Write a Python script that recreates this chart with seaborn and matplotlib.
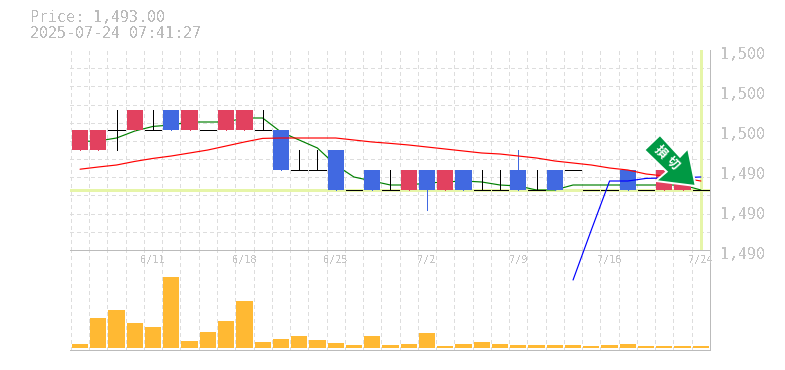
import matplotlib
matplotlib.use("Agg")
import matplotlib.pyplot as plt
from matplotlib.patches import Polygon
from matplotlib.transforms import ScaledTranslation
import seaborn as sns

# 35 daily candles
days = list(range(35))
opens = [1495, 1495, 1496, 1496, 1496, 1497, 1496, 1496, 1496, 1496, 1496, 1496,
         1494, 1494, 1495, 1493, 1494, 1493, 1493, 1494, 1493, 1494, 1493, 1493,
         1494, 1493, 1494, 1494, 1493, 1493, 1494, 1493, 1493, 1493, 1493]
closes = [1496, 1496, 1496, 1497, 1496, 1496, 1497, 1496, 1497, 1497, 1496, 1494,
          1494, 1494, 1493, 1493, 1493, 1493, 1494, 1493, 1494, 1493, 1493, 1493,
          1493, 1493, 1493, 1494, 1493, 1493, 1493, 1493, 1494, 1494, 1493]
highs = [1496, 1496, 1497, 1497, 1497, 1497, 1497, 1496, 1497, 1497, 1497, 1496,
         1495, 1495, 1495, 1493, 1494, 1494, 1494, 1494, 1494, 1494, 1494, 1494,
         1495, 1494, 1494, 1494, 1493, 1493, 1494, 1493, 1494, 1494, 1493]
lows = [1495, 1495, 1495, 1496, 1496, 1496, 1496, 1496, 1496, 1496, 1496, 1494,
        1494, 1494, 1493, 1493, 1493, 1493, 1493, 1492, 1493, 1493, 1493, 1493,
        1493, 1493, 1493, 1494, 1493, 1493, 1493, 1493, 1493, 1493, 1493]
volume = [4, 30, 38, 25, 21, 71, 7, 16, 27, 47, 6, 9, 12, 8, 5, 3, 12, 3,
          4, 15, 2, 4, 6, 4, 3, 3, 3, 3, 2, 3, 4, 2, 2, 2, 2]

ma_short = [1495.43, 1495.45, 1495.60, 1495.95, 1496.18, 1496.25, 1496.40, 1496.40,
            1496.40, 1496.60, 1496.60, 1495.90, 1495.50, 1495.10, 1494.25, 1493.65,
            1493.45, 1493.25, 1493.25, 1493.35, 1493.40, 1493.45, 1493.40, 1493.25,
            1493.20, 1493.00, 1493.00, 1493.25, 1493.25, 1493.25, 1493.25, 1493.25,
            1493.25, 1493.25, 1493.00]
ma_mid = [1494.04, 1494.15, 1494.25, 1494.43, 1494.58, 1494.70, 1494.85, 1495.00,
          1495.20, 1495.40, 1495.58, 1495.60, 1495.60, 1495.60, 1495.60, 1495.50,
          1495.40, 1495.33, 1495.25, 1495.15, 1495.05, 1494.95, 1494.85, 1494.80,
          1494.70, 1494.60, 1494.45, 1494.35, 1494.25, 1494.10, 1494.00, 1493.80,
          1493.70, 1493.60, 1493.45]
ma_long_days = [27, 28, 29, 30, 31, 32, 33, 34]
ma_long = [1488.50, 1491.00, 1493.45, 1493.45, 1493.58, 1493.60, 1493.62, 1493.65]

price_ticks = [1490, 1492, 1494, 1496, 1498, 1500]
price_labels = ["1,490", "1,490", "1,490", "1,500", "1,500", "1,500"]
date_days = [4, 9, 14, 19, 24, 29, 34]
date_labels = ["6/11", "6/18", "6/25", "7/2", "7/9", "7/16", "7/24"]
last_price = 1493

RED = "#E2415F"
BLUE = "#4169E1"
PALE = "#E6F5A8"
GRID = "#DDDDDD"
FRAME = "#BBBBBB"
W, H = 785, 370
PX = 0.7  # one pixel wide line
MA_LW = 0.85

sns.set_style("white")
plt.rcParams["font.family"] = ["DejaVu Sans Mono", "Noto Sans CJK JP"]
# the original is a hard-edged bitmap chart
plt.rcParams["lines.antialiased"] = False
plt.rcParams["patch.antialiased"] = False
plt.rcParams["text.antialiased"] = False

fig = plt.figure(figsize=(W / 100, H / 100), dpi=100)
ax = fig.add_axes([70 / W, 1 - 250 / H, 640 / W, 200 / H])
ax_vol = fig.add_axes([70 / W, 1 - 350 / H, 640 / W, 100 / H])
ax.set_zorder(2)
ax.patch.set_visible(False)

# candles
bar_w = 0.89
for d, o, c, hi, lo in zip(days, opens, closes, highs, lows):
    if o == c:
        col = "black"
        ax.hlines(o, d - bar_w / 2, d + bar_w / 2, color=col, lw=PX, zorder=4)
    else:
        col = RED if c > o else BLUE
        ax.bar(d, abs(c - o), bottom=min(o, c), width=bar_w, color=col, lw=0, zorder=4)
    if hi > lo:
        ax.vlines(d, lo, hi, color=col, lw=PX, zorder=3.5)

ax.axhline(last_price, color=PALE, lw=2.1, zorder=1.5)
ax.axvline(days[-1], color=PALE, lw=2.1, zorder=1.5)

# moving averages, smoothed because aliased sloped lines come out two pixels wide
sns.lineplot(x=days, y=ma_short, color="#008000", lw=MA_LW, estimator=None, ax=ax,
             zorder=3, antialiased=True)
sns.lineplot(x=days, y=ma_mid, color="#FF0000", lw=MA_LW, estimator=None, ax=ax,
             zorder=5, antialiased=True)
sns.lineplot(x=ma_long_days, y=ma_long, color="#0000FF", lw=MA_LW, estimator=None,
             ax=ax, zorder=5, clip_on=False, antialiased=True)

# volume
sns.barplot(x=days, y=volume, native_scale=True, color="#FFB933", saturation=1,
            width=bar_w, linewidth=0, ax=ax_vol, zorder=3)

for a in (ax, ax_vol):
    a.set_xlim(-0.55, 34.45)
    a.set_xlabel("")
    a.set_ylabel("")
    a.set_xticks([])
    a.set_xticks([d - 0.5 for d in days] + [34.5], minor=True)
    a.tick_params(which="both", length=0)
    a.grid(True, axis="x", which="minor", color=GRID, lw=PX, ls=(0, (4, 4)), zorder=0)
    a.set_axisbelow(True)
    a.spines["left"].set_visible(False)
    a.spines["top"].set_visible(False)
    for side in ("right", "bottom"):
        a.spines[side].set_color(FRAME)
        a.spines[side].set_linewidth(PX)

ax.set_ylim(1490, 1500)
ax.yaxis.tick_right()
ax.set_yticks(price_ticks)
ax.set_yticklabels(price_labels, color="#C4C4C4", fontsize=10.8)
ax.set_yticks([1490 + k * 10 / 11 for k in range(12)], minor=True)
ax.grid(True, axis="y", which="minor", color=GRID, lw=PX, ls=(0, (4, 4)), zorder=0)
ax.tick_params(axis="y", which="both", length=0, pad=7)
shift = ScaledTranslation(0, -3 / 100, fig.dpi_scale_trans)
for lab in ax.get_yticklabels():
    lab.set_transform(lab.get_transform() + shift)

ax_vol.set_ylim(-2, 98)
ax_vol.set_yticks([])
for d, lab in zip(date_days, date_labels):
    ax_vol.text(d, 88, lab, ha="center", va="center", fontsize=7.4, color="#C4C4C4", zorder=6)

# header
fig.text(30 / W, 1 - 18 / H, "Price: 1,493.00", fontsize=10.8, color="#BBBBBB", va="center")
fig.text(30 / W, 1 - 33 / H, "2025-07-24 07:41:27", fontsize=10.8, color="#BBBBBB", va="center")

# stop-loss arrow badge, in pixel positions
badge = [(660, 135), (644.3, 150), (666.7, 171.7), (655.7, 181),
         (695.7, 186), (688, 148.3), (680, 156.7)]
fig.add_artist(Polygon([(x / W, 1 - y / H) for x, y in badge], closed=True,
                       transform=fig.transFigure, facecolor="#009944",
                       edgecolor="white", lw=1.4, joinstyle="miter", zorder=10,
                       antialiased=True))
for (x, y), ch in zip([(660, 152), (672, 163)], "損切"):
    fig.text(x / W, 1 - y / H, ch, rotation=-45, rotation_mode="anchor", ha="center",
             va="center", fontsize=9, fontweight="bold", color="white",
             family="Noto Sans CJK JP", zorder=11, antialiased=True)

fig.savefig("out.png", dpi=100, facecolor="white")
